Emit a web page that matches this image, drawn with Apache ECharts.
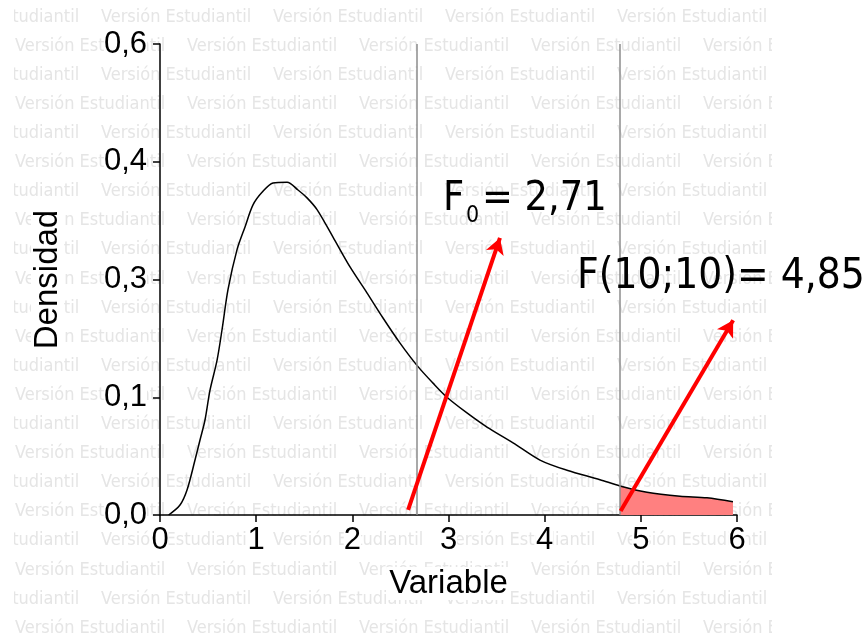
<!DOCTYPE html>
<html><head><meta charset="utf-8">
<script src="https://cdn.jsdelivr.net/npm/echarts@6/dist/echarts.min.js"></script>
<style>html,body{margin:0;padding:0;background:#fff}#c{width:868px;height:633px}</style>
</head><body><div id="c"></div>
<script>
// ---- data ----
const xValues = [0.09,0.208,0.281,0.364,0.416,0.468,0.520,0.593,0.645,0.707,0.801,0.884,0.967,1.061,1.175,1.321,1.435,1.529,1.633,1.799,1.976,2.152,2.319,2.496,2.683,2.839,2.984,3.192,3.400,3.671,3.951,4.232,4.575,4.783,5.064,5.407,5.688,5.958];
const densityValues = [0,0.0127,0.0318,0.070,0.0955,0.121,0.159,0.197,0.236,0.287,0.338,0.367,0.395,0.411,0.423,0.424,0.414,0.404,0.389,0.354,0.316,0.283,0.251,0.219,0.189,0.168,0.150,0.130,0.112,0.092,0.070,0.057,0.045,0.037,0.029,0.024,0.022,0.017];
const xTickLabels = ['0','1','2','3','4','5','6'];
const yTickLabels = ['0,0','0,1','0,3','0,4','0,6'];
const criticalLines = [2.67, 4.78];
const shadeStart = 4.78;
const arrowStarts = [[2.58, 0.0064], [4.79, 0.005]];
const arrowEnds = [[3.535, 0.353], [5.96, 0.248]];
const xName = 'Variable';
const yName = 'Densidad';
const watermarkText = 'Versión Estudiantil';

const curve = xValues.map((x, i) => [x, densityValues[i]]);
const shade = curve.filter(p => p[0] >= shadeStart);

// ---- watermark (decoration) ----
const graphics = [];
for (let k = 0; k < 22; k++) {
  const y = 17 + k * 29.1;
  const x0 = (k % 2 === 0) ? 101 - 172 : 15;
  for (let x = x0; x < 772; x += 172) {
    graphics.push({type:'text', x:x, y:y, z:-10, silent:true,
      style:{text:watermarkText, fontSize:18, fontFamily:'"DejaVu Sans Condensed", "DejaVu Sans"', fill:'#e5e5e5',
        align:'left', verticalAlign:'middle', textAlign:'left', textVerticalAlign:'middle'}});
  }
}
graphics.push({type:'rect', z:-9, silent:true, shape:{x:0,y:0,width:14,height:633}, style:{fill:'#fff'}});
graphics.push({type:'rect', z:-9, silent:true, shape:{x:772,y:0,width:96,height:633}, style:{fill:'#fff'}});
const annFont = '"DejaVu Sans Condensed", "DejaVu Sans"';
function ann(text, x, y, size) {
  return {type:'text', x:x, y:y, z:100, silent:true,
    style:{text:text, fontSize:size, fontFamily:annFont, fill:'#000', align:'left', verticalAlign:'middle', textAlign:'left', textVerticalAlign:'middle'}};
}
graphics.push(ann('F', 443, 199, 41));
graphics.push(ann('0', 466, 216, 23));
graphics.push(ann('= 2,71', 482, 199, 41));
graphics.push(ann('F(10;10)= 4,85', 577, 277, 42));

const chart = echarts.init(document.getElementById('c'));
const tickFont = {fontFamily:'"Liberation Sans", Arial', fontSize:31, color:'#000', backgroundColor:'#fff'};
chart.setOption({
  animation:false,
  backgroundColor:'#fff',
  grid:{left:160, right:131, top:44, bottom:118, containLabel:false},
  graphic:graphics,
  xAxis:{type:'value', min:0, max:6, interval:1,
    name:xName, nameLocation:'middle', nameGap:52,
    nameTextStyle:{fontFamily:'"Liberation Sans", Arial', fontSize:33, color:'#000', backgroundColor:'#fff', padding:[0,3]},
    axisLine:{show:true, onZero:false, lineStyle:{color:'#000', width:1.5}},
    axisTick:{show:true, inside:false, length:7, lineStyle:{color:'#000', width:1.5}},
    axisLabel:Object.assign({margin:10, formatter:(v, i) => xTickLabels[i]}, tickFont),
    splitLine:{show:false}},
  yAxis:{type:'value', min:0, max:0.6, interval:0.15,
    name:yName, nameLocation:'middle', nameGap:96, nameRotate:90,
    nameTextStyle:{fontFamily:'"Liberation Sans", Arial', fontSize:33, color:'#000', backgroundColor:'#fff', padding:[0,3]},
    axisLine:{show:true, lineStyle:{color:'#000', width:1.5}},
    axisTick:{show:true, inside:false, length:7, lineStyle:{color:'#000', width:1.5}},
    axisLabel:Object.assign({margin:13, formatter:(v, i) => yTickLabels[i]}, tickFont),
    splitLine:{show:false}},
  series:[
    {type:'line', data:curve, symbol:'none', z:3, smooth:0.3,
      lineStyle:{color:'#000', width:1.5},
      markLine:{silent:true, symbol:['none','none'], label:{show:false},
        lineStyle:{color:'#8c8c8c', width:1.5, type:'solid'},
        data:criticalLines.map(v => ({xAxis:v}))}},
    {type:'line', data:shade, symbol:'none', z:2, smooth:0.3,
      lineStyle:{width:0, color:'#ff8080'}, areaStyle:{color:'#ff8080', opacity:1}},
    {type:'line', data:[], symbol:'none', z:5,
      markLine:{silent:true, symbol:['none','arrow'], symbolSize:[14,16], label:{show:false},
        lineStyle:{color:'#ff0000', width:4, type:'solid'},
        data:arrowStarts.map((s, i) => [{coord:s}, {coord:arrowEnds[i]}])}}
  ]
});
</script></body></html>
